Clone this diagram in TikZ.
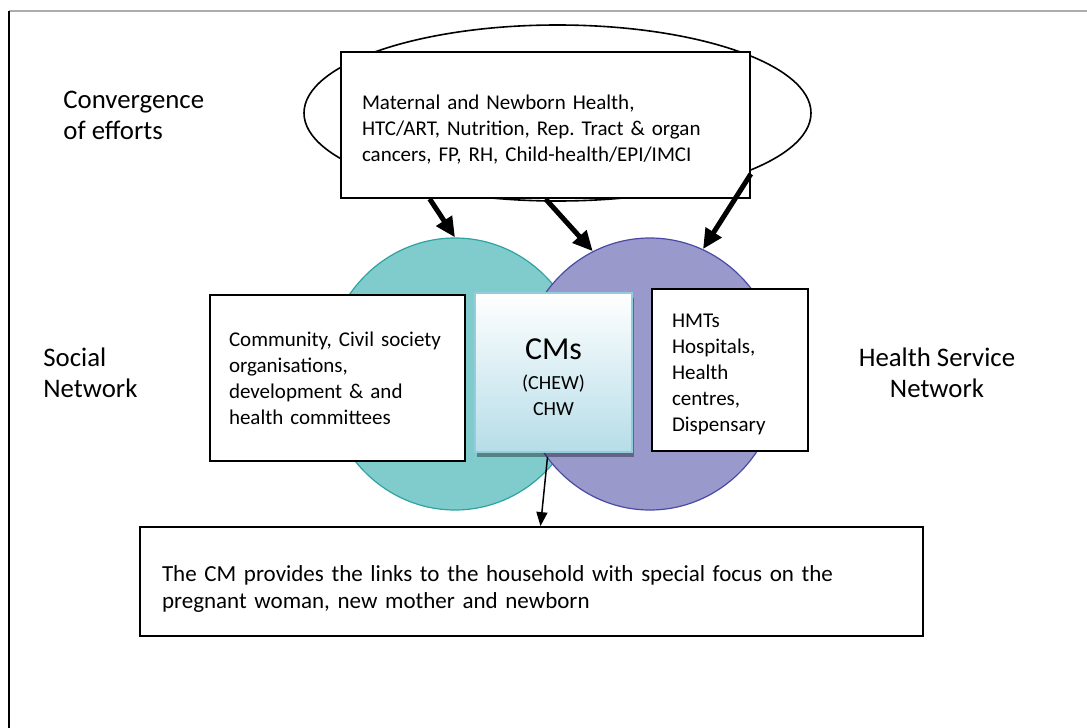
\documentclass[tikz,border=0pt]{standalone}
\usepackage{fontspec}
\setmainfont{Carlito}
\usepackage{tikz}
\usetikzlibrary{shapes.geometric, arrows.meta, calc, shadows}
\tikzset{plain box/.style={draw, line width=0.9pt, fill=white, inner ysep=0pt, align=left, font=\fontsize{10.5}{13}\selectfont}}
\tikzset{fat arrow/.style={-{Triangle[length=10pt, width=9pt]}, line width=2.5pt}}
\tikzset{thin arrow/.style={-{Triangle[length=7pt, width=5.5pt]}, line width=0.75pt}}
\tikzset{side label/.style={inner sep=0pt, font=\fontsize{13.4}{15.5}\selectfont}}
\definecolor{social_teal}{HTML}{80CCCC}
\definecolor{social_edge}{HTML}{2EA3A3}
\definecolor{service_purple}{HTML}{9999CC}
\definecolor{service_edge}{HTML}{4A4AA6}
\definecolor{cm_blue}{HTML}{B6DDE8}
\definecolor{cm_edge}{HTML}{93CDDD}
% push the text of a box down a little
\newcommand{\topgap}[1]{\rule{0pt}{#1}}
\frenchspacing

\begin{document}
\begin{tikzpicture}[x=0.5pt, y=-0.5pt]
\useasboundingbox (0,0) rectangle (1087,728);

% Draw the page frame (top and left edges)
\draw[gray!65, line width=1.2pt] (9,11) -- (1087,11);
\draw[black, line width=1pt] (9,11) -- (9,728);

% Draw the ring of efforts behind the top box
\node[ellipse, draw, line width=0.8pt, minimum width=253.5pt, minimum height=88pt, inner sep=0pt] (ring) at (557.5,113) {};

% Draw the top box with the health programmes
\node[plain box, minimum width=204.5pt, minimum height=73pt, inner xsep=10.5pt, text width=183.5pt] (topbox) at (545.5,125)
  {\topgap{11.4pt}Maternal and Newborn Health,\\ HTC/ART, Nutrition, Rep. Tract \& organ\\ cancers, FP, RH, Child-health/EPI/IMCI};

% Draw the two network circles
\node[ellipse, draw=social_edge, fill=social_teal, line width=0.6pt, minimum width=130pt, minimum height=136pt, inner sep=0pt] (social) at (455,374) {};
\node[ellipse, draw=service_edge, fill=service_purple, line width=0.6pt, minimum width=130pt, minimum height=136pt, inner sep=0pt] (health) at (650,374) {};

% Draw the three thick arrows from the top box to the circles
\draw[fat arrow] ($(topbox.south west)!0.218!(topbox.south east)$) -- (social.north);
\draw[fat arrow] (topbox.south) -- (health.115);
\draw[fat arrow] ($(topbox.south east)+(0,-25)$) -- (health.67);

% Draw the side boxes
\node[plain box, minimum width=127.5pt, minimum height=83pt, inner xsep=9.5pt, text width=108.5pt] (community) at (337.5,378)
  {Community, Civil society\\ organisations,\\ development \& and\\ health committees};
\node[plain box, minimum width=78pt, minimum height=81pt, inner xsep=10pt, text width=58pt] (services) at (730,370)
  {\topgap{10.8pt}HMTs\\ Hospitals,\\ Health\\ centres,\\ Dispensary};

% Draw the CMs box in the middle
\node[draw=cm_edge, line width=1pt, top color=white, bottom color=cm_blue, minimum width=78.5pt, minimum height=79.5pt, inner sep=0pt, align=center, font=\fontsize{10}{13}\selectfont,
  drop shadow={shadow xshift=1pt, shadow yshift=-2.5pt, fill=black, opacity=0.35}] (cms) at (553.5,372.5)
  {\topgap{15.5pt}{\fontsize{16}{16}\selectfont CMs}\\[2pt] (CHEW)\\ CHW};

% Draw the bottom box
\node[plain box, minimum width=391.5pt, minimum height=54.5pt, inner xsep=11pt, text width=369.5pt, font=\fontsize{11.5}{13.5}\selectfont] (bottom) at (531.5,581.5)
  {\topgap{15pt}The CM provides the links to the household with special focus on the\\ pregnant woman, new mother and newborn};

% Draw the thin arrow from the CMs box down to the bottom box
\draw[thin arrow] ($(cms.south)+(-6,4)$) -- ($(bottom.north)+(9,0)$);

% Side labels
\node[side label, anchor=west, align=left] (convergence) at (63,115) {Convergence\\ of efforts};
\node[side label, anchor=west, align=left] (socialnet) at (43,373) {Social\\ Network};
\node[side label, align=center] (healthnet) at (937,373) {Health Service\\ Network};

\end{tikzpicture}
\end{document}
